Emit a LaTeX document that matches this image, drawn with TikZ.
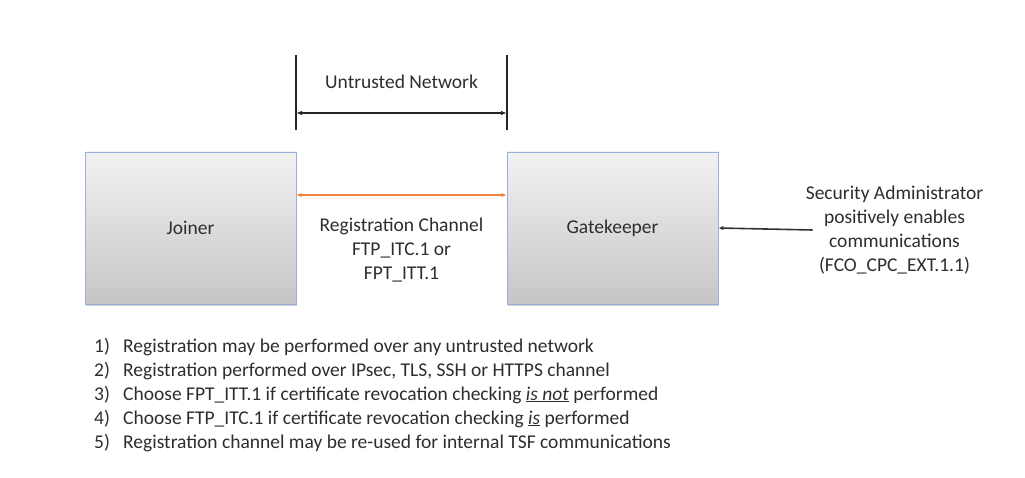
\documentclass[tikz,border=0pt]{standalone}
\usepackage{fontspec}
\setmainfont{Carlito}
\usetikzlibrary{arrows.meta,positioning,shadows}

\definecolor{boxline}{HTML}{9AB0D8}
\definecolor{chanorange}{HTML}{F2823A}
\definecolor{txtgray}{HTML}{2E2E2E}

\tikzset{
  entity/.style={draw=boxline, line width=0.9pt, rectangle, minimum width=211pt, minimum height=152pt,
    top color=gray!10, bottom color=gray!45, text=txtgray,
    drop shadow={shadow xshift=1pt, shadow yshift=-1.5pt, opacity=0.35}},
  label/.style={align=center, text=txtgray, inner sep=0pt},
  tick/.style={line width=1.4pt, black!85},
  span/.style={line width=1.2pt, black!85, {Latex[length=6pt,width=4.5pt]}-{Latex[length=6pt,width=4.5pt]}},
  chan/.style={line width=1.6pt, chanorange, {Latex[length=5pt,width=4.5pt]}-{Latex[length=5pt,width=4.5pt]}},
  enable/.style={line width=1.6pt, black!80, -{Latex[length=5pt,width=4.5pt]}},
}

\begin{document}
\begin{tikzpicture}[x=1pt, y=-1pt, font=\fontsize{19.5}{24}\selectfont]
    \useasboundingbox[fill=white] (0,0) rectangle (1025,478);

    \node[entity] (joiner) at (190.5,228) {Joiner};
    \node[entity] (gate) at (612.5,228) {Gatekeeper};

    % untrusted network span
    \coordinate (netl) at (296,113);
    \coordinate (netr) at (507,113);
    \draw[tick] (296,55) -- (296,130);
    \draw[tick] (507,55) -- (507,130);
    \draw[span] (netl) -- (netr);
    \node[label] (tnet) at (401.5,82) {Untrusted Network};

    \draw[chan] ([yshift=33pt]joiner.east) -- ([yshift=33pt]gate.west);
    \node[label] (regchan) at (401.5,250) {Registration Channel\\FTP\_ITC.1 or\\FPT\_ITT.1};

    \node[label] (admin) at (894.5,230) {Security Administrator\\positively enables\\communications\\(FCO\_CPC\_EXT.1.1)};
    \draw[enable] ([xshift=7pt]admin.west) -- (gate.east);

    \node[label, anchor=north west, align=left] (notes) at (94,335) {%
      \begin{tabular}{@{}p{29pt}@{}l@{}}
        1) & Registration may be performed over any untrusted network\\
        2) & Registration performed over IPsec, TLS, SSH or HTTPS channel\\
        3) & Choose FPT\_ITT.1 if certificate revocation checking \underline{\textit{is not}} performed\\
        4) & Choose FTP\_ITC.1 if certificate revocation checking \underline{\textit{is}} performed\\
        5) & Registration channel may be re-used for internal TSF communications
      \end{tabular}};
\end{tikzpicture}
\end{document}
